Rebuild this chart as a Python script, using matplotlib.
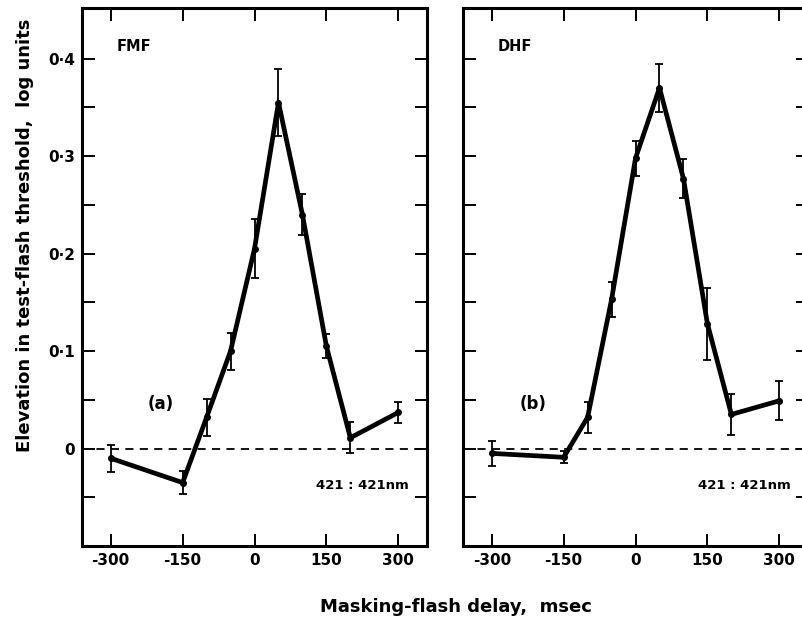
import numpy as np
import matplotlib
matplotlib.use("Agg")
import matplotlib.pyplot as plt

# masking-flash delay (msec)
delay = [-300, -150, -100, -50, 0, 50, 100, 150, 200, 300]

# FMF, panel (a)
fmf = [-0.010, -0.035, 0.032, 0.100, 0.205, 0.355, 0.240, 0.105, 0.011, 0.037]
fmf_err = [0.014, 0.012, 0.019, 0.019, 0.030, 0.034, 0.021, 0.012, 0.016, 0.011]

# DHF, panel (b)
dhf = [-0.005, -0.009, 0.032, 0.153, 0.298, 0.370, 0.277, 0.128, 0.035, 0.049]
dhf_err = [0.013, 0.006, 0.016, 0.018, 0.018, 0.025, 0.020, 0.037, 0.021, 0.020]

xticks = [-300, -150, 0, 150, 300]
xlabels = ['-300', '-150', '0', '150', '300']
yticks = [-0.05, 0, 0.05, 0.1, 0.15, 0.2, 0.25, 0.3, 0.35, 0.4]
ylabels = ['', '0', '', '0·1', '', '0·2', '', '0·3', '', '0·4']

plt.rcParams['font.family'] = ['DejaVu Sans']

fig = plt.figure(figsize=(8.03, 6.21), dpi=100)

axA = fig.add_axes([0.1021, 0.1208, 0.4297, 0.8663])
axB = fig.add_axes([0.5766, 0.1208, 0.4297, 0.8663])

def setup(ax, show_labels):
    ax.set_xlim(-360, 360)
    ax.set_ylim(-0.1, 0.452)
    for s in ax.spines.values():
        s.set_linewidth(2.2)
    ax.set_xticks(xticks)
    ax.set_xticklabels(xlabels, fontweight='bold')
    ax.set_yticks(yticks)
    if show_labels:
        ax.set_yticklabels(ylabels, fontweight='bold')
    else:
        ax.set_yticklabels([''] * len(yticks))
    ax.tick_params(direction='in', length=9, width=1.4, top=True, right=True,
                   labelsize=11, pad=5)
    ax.axhline(0, color='black', lw=1.3, dashes=(4.5, 3.5), zorder=1)

def draw(ax, ys, errs):
    ax.errorbar(delay, ys, yerr=errs, color='black', lw=3.4, elinewidth=1.3,
                capsize=2.6, capthick=1.3, marker='o', markersize=4,
                solid_capstyle='round', zorder=3)

setup(axA, True)
setup(axB, False)
draw(axA, fmf, fmf_err)
draw(axB, dhf, dhf_err)

axA.text(-288, 0.413, 'FMF', fontsize=10.5, fontweight='bold', va='center')
axB.text(-288, 0.413, 'DHF', fontsize=10.5, fontweight='bold', va='center')
axA.text(-196, 0.046, '(a)', fontsize=12, fontweight='bold', ha='center', va='center')
axB.text(-213, 0.046, '(b)', fontsize=12, fontweight='bold', ha='center', va='center')
axA.text(321, -0.038, '421 : 421nm', fontsize=9.5, fontweight='bold', ha='right', va='center')
axB.text(323, -0.038, '421 : 421nm', fontsize=9.5, fontweight='bold', ha='right', va='center')

fig.text(25 / 803, 1 - 235 / 621, 'Elevation in test-flash threshold,  log units',
         rotation=90, fontsize=13, fontweight='bold', ha='center', va='center')
fig.text(456 / 803, 1 - 607 / 621, 'Masking-flash delay,  msec',
         fontsize=13, fontweight='bold', ha='center', va='center')

fig.savefig('out.png', dpi=100)
